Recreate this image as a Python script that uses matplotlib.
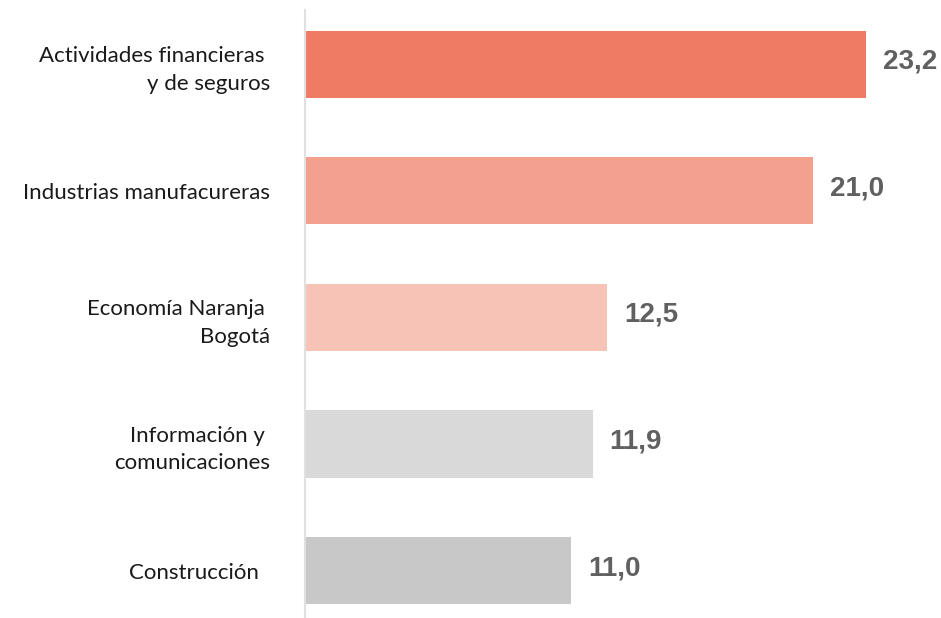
import numpy as np
import matplotlib.pyplot as plt

categories = ["Actividades financieras \ny de seguros",
              "Industrias manufacureras",
              "Economía Naranja \nBogotá",
              "Información y \ncomunicaciones",
              "Construcción  "]
values = [23.2, 21.0, 12.5, 11.9, 11.0]
value_labels = ["23,2", "21,0", "12,5", "11,9", "11,0"]
colors = ["#EF7B65", "#F4A08E", "#F8C3B7", "#D9D9D9", "#C8C8C8"]

fig = plt.figure(figsize=(9.41, 6.18), dpi=100)
ax = fig.add_axes([305 / 941, 0, 1 - 305 / 941, 1 - 10 / 618])

y = np.arange(len(categories))
ax.barh(y, values, height=0.53, color=colors)

for yi, v, lab in zip(y, values, value_labels):
    ax.text(v + 0.7, yi - 0.02, lab, va="center", ha="left", fontsize=20,
            fontweight="bold", color="#606060", family="Liberation Sans")

ax.set_yticks(y)
ax.set_yticklabels(categories, fontsize=16, family="Lato", color="#1a1a1a",
                   ha="right", multialignment="right", linespacing=1.45)
ax.tick_params(axis="y", length=0, pad=25)
ax.set_xticks([])
ax.set_xlim(0, 26.3)
ax.set_ylim(4.375, -0.43)

for s in ["top", "right", "bottom"]:
    ax.spines[s].set_visible(False)
ax.spines["left"].set_color("#E0E0E0")
ax.spines["left"].set_linewidth(1.5)

fig.savefig("out.png", dpi=100)
